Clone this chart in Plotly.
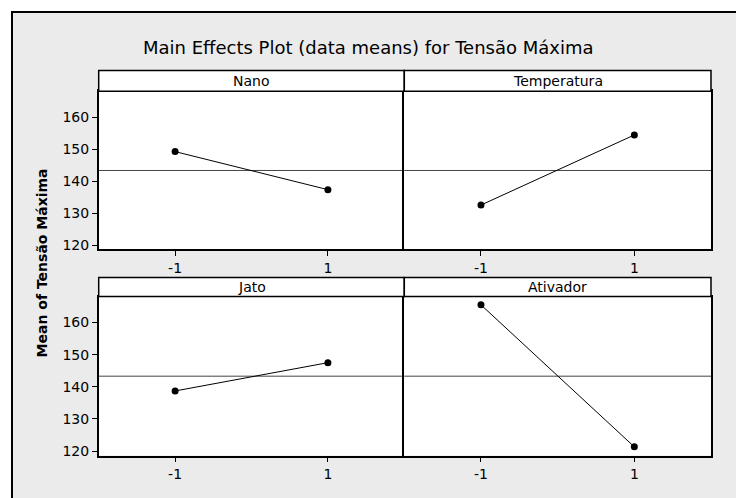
import plotly.graph_objects as go

# ---------------- data ----------------
factors = ["Nano", "Temperatura", "Jato", "Ativador"]
levels = [-1, 1]
level_labels = ["-1", "1"]
nano = [149.2, 137.3]
temperatura = [132.5, 154.4]
jato = [138.7, 147.5]
ativador = [165.5, 121.3]
grand_mean = 143.3
y_ticks = [120, 130, 140, 150, 160]
title_text = "Main Effects Plot (data means) for Tensão Máxima"
y_title = "Mean of Tensão Máxima"

series = [nano, temperatura, jato, ativador]

W, H = 736, 498
FONT = "DejaVu Sans"

def px(x):
    return x / W

def py(y):
    return 1 - y / H

# panel geometry (pixels)
xl, xm, xr = 98.7, 404.3, 711.0
rows = [  # (strip_top, plot_top, plot_bottom)
    (71.0, 91.7, 251.0),
    (279.3, 298.3, 458.3),
]
cols = [(xl, xm), (xm, xr)]

fig = go.Figure()

shapes = []
annotations = []

# outer gray frame
shapes.append(dict(type="rect", xref="paper", yref="paper",
                   x0=px(12), x1=1.05, y0=-0.05, y1=py(12),
                   fillcolor="#ebebeb", line=dict(color="black", width=2),
                   layer="below"))

for i, (name, vals) in enumerate(zip(factors, series)):
    r, c = divmod(i, 2)
    st, pt, pb = rows[r]
    x0, x1 = cols[c]
    ax = "" if i == 0 else str(i + 1)
    xa = "x" + ax
    ya = "y" + ax

    fig.add_trace(go.Scatter(
        x=levels, y=vals, mode="lines+markers",
        line=dict(color="black", width=1),
        marker=dict(color="black", size=7),
        xaxis=xa, yaxis=ya, showlegend=False, hoverinfo="x+y"))

    fig.layout["xaxis" + ax] = dict(
        domain=[px(x0), px(x1)], range=[-2, 2], anchor=ya,
        tickvals=levels, ticktext=level_labels,
        ticks="outside", ticklen=5, tickcolor="black", tickwidth=1,
        showline=True, mirror=True, linecolor="black", linewidth=1.5,
        showgrid=False, zeroline=False,
        tickfont=dict(family=FONT, size=14, color="black"))
    fig.layout["yaxis" + ax] = dict(
        domain=[py(pb), py(pt)], range=[118.6, 168.1], anchor=xa,
        tickvals=y_ticks,
        ticks="outside" if c == 0 else "", ticklen=5, tickcolor="black", tickwidth=1,
        showticklabels=(c == 0),
        showline=True, mirror=(c == 1), linecolor="black", linewidth=1.5,
        showgrid=False, zeroline=False,
        tickfont=dict(family=FONT, size=14, color="black"))

    # white plot area
    shapes.append(dict(type="rect", xref=xa + " domain", yref=ya + " domain",
                       x0=0, x1=1, y0=0, y1=1, fillcolor="white",
                       line=dict(width=0), layer="below"))
    # grand mean reference line
    shapes.append(dict(type="line", xref=xa + " domain", yref=ya,
                       x0=0, x1=1, y0=grand_mean, y1=grand_mean,
                       line=dict(color="#444444", width=1), layer="below"))
    # strip box
    shapes.append(dict(type="rect", xref="paper", yref="paper",
                       x0=px(x0), x1=px(x1), y0=py(pt), y1=py(st),
                       fillcolor="white", line=dict(color="black", width=1.5)))
    annotations.append(dict(text=name, xref="paper", yref="paper",
                            x=px((x0 + x1) / 2), y=py((st + pt) / 2),
                            xanchor="center", yanchor="middle", showarrow=False,
                            font=dict(family=FONT, size=14, color="black")))

annotations.append(dict(text=title_text, xref="paper", yref="paper",
                        x=px(368), y=py(48), xanchor="center", yanchor="middle",
                        showarrow=False,
                        font=dict(family=FONT, size=18, color="black")))
annotations.append(dict(text="<b>" + y_title + "</b>", xref="paper", yref="paper",
                        x=px(42), y=py(265), xanchor="center", yanchor="middle",
                        textangle=-90, showarrow=False,
                        font=dict(family=FONT, size=14, color="black")))

fig.update_layout(
    width=W, height=H,
    margin=dict(l=0, r=0, t=0, b=0),
    paper_bgcolor="white",
    plot_bgcolor="rgba(0,0,0,0)",
    shapes=shapes,
    annotations=annotations,
    showlegend=False,
)

fig.write_html("out.html", config={"displayModeBar": False})

# remove the browser's default body margin so the figure fills the window
with open("out.html", "r", encoding="utf-8") as f:
    html = f.read()
html = html.replace("<body>", '<body style="margin:0;padding:0;overflow:hidden">', 1)
with open("out.html", "w", encoding="utf-8") as f:
    f.write(html)
